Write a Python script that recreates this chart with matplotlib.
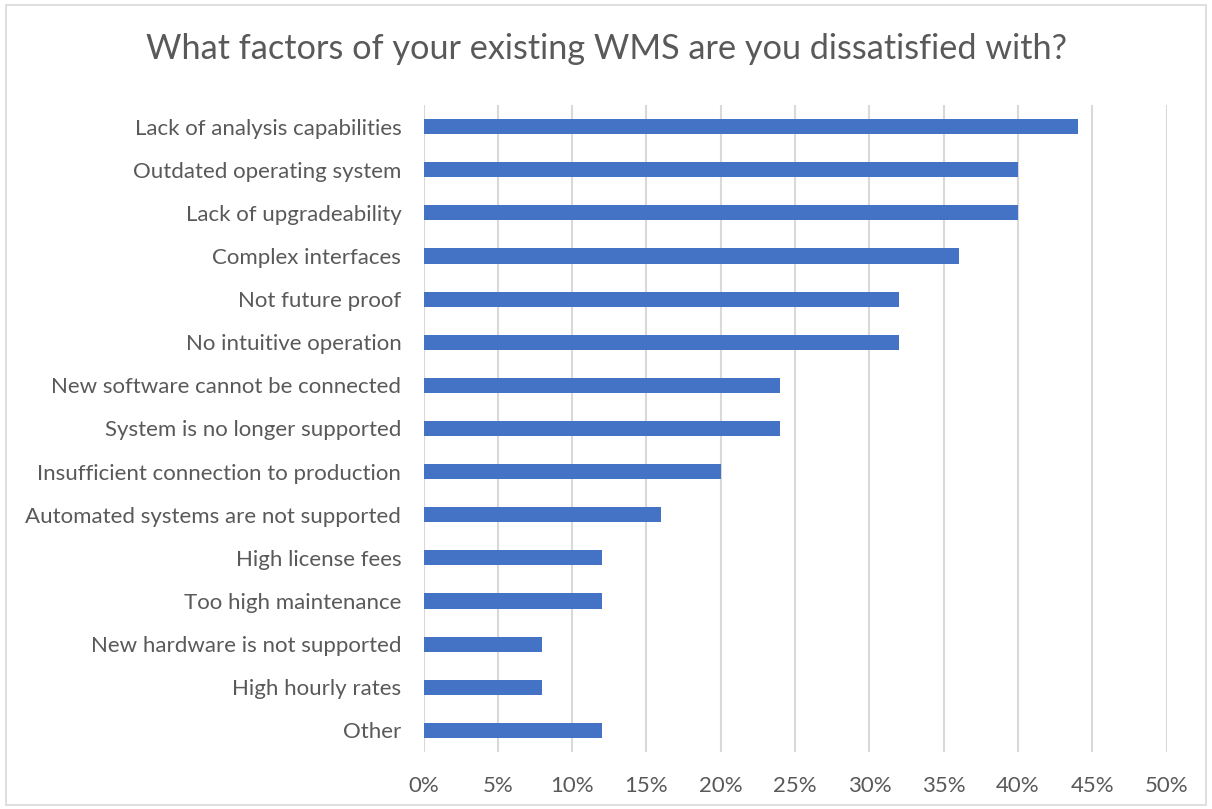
import matplotlib
matplotlib.use("Agg")
import matplotlib.pyplot as plt
from matplotlib.patches import Rectangle
from matplotlib.ticker import PercentFormatter

# Survey data (share of respondents)
factors = [
    "Lack of analysis capabilities",
    "Outdated operating system",
    "Lack of upgradeability",
    "Complex interfaces",
    "Not future proof",
    "No intuitive operation",
    "New software cannot be connected",
    "System is no longer supported",
    "Insufficient connection to production",
    "Automated systems are not supported",
    "High license fees",
    "Too high maintenance",
    "New hardware is not supported",
    "High hourly rates",
    "Other",
]
shares = [44, 40, 40, 36, 32, 32, 24, 24, 20, 16, 12, 12, 8, 8, 12]
x_ticks = [0, 5, 10, 15, 20, 25, 30, 35, 40, 45, 50]

plt.rcParams['font.family'] = ['Lato', 'DejaVu Sans']
text_col = '#595959'

W, H = 1212, 809
fig = plt.figure(figsize=(W / 100, H / 100), dpi=100)
ax = fig.add_axes([423.5 / W, 1 - 752 / H, (1166.7 - 423.5) / W, (752 - 105) / H])

pos = list(range(len(factors)))
ax.barh(pos, shares, height=0.35, color='#4472C4', zorder=3)
ax.set_ylim(len(factors) - 0.5, -0.5)
ax.set_xlim(0, 50)
ax.set_yticks(pos)
ax.set_yticklabels(factors, fontsize=16, color=text_col)
ax.set_xticks(x_ticks)
ax.xaxis.set_major_formatter(PercentFormatter(decimals=0))
ax.tick_params(axis='x', labelsize=16, labelcolor=text_col, length=0, pad=17)
ax.tick_params(axis='y', length=0, pad=16)
ax.grid(axis='x', color='#D9D9D9', linewidth=1.5, zorder=0)
for s in ax.spines.values():
    s.set_visible(False)

fig.text(0.5, 1 - 49 / H, "What factors of your existing WMS are you dissatisfied with?",
         ha='center', va='center', fontsize=24.7, color=text_col)

# light outer frame like the Excel chart area
fig.patches.append(Rectangle((6 / W, 4 / H), (W - 12) / W, (H - 9) / H, transform=fig.transFigure,
                             fill=False, edgecolor='#D9D9D9', linewidth=1.2))

fig.savefig("out.png", dpi=100)
